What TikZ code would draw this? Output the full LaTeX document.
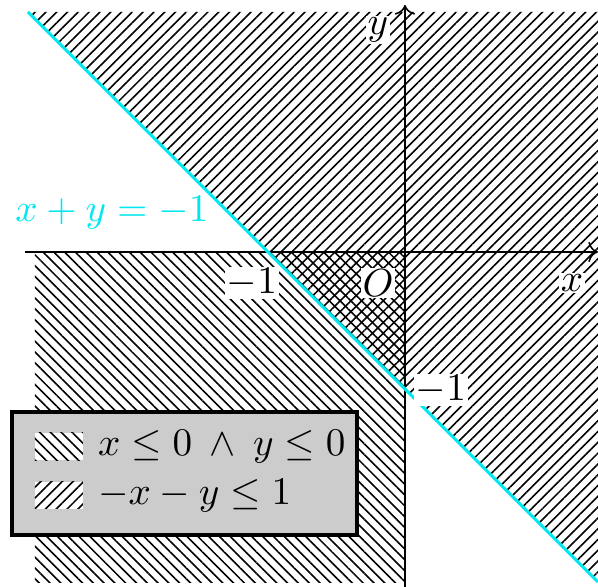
\documentclass[tikz,border=0pt]{standalone}
\usepackage{amssymb}
\usepackage{xcolor}
\usepackage{tikz}
\usetikzlibrary{arrows.meta,calc,positioning,patterns.meta}
\definecolor{bound}{RGB}{0,232,238}

\begin{document}
\begin{tikzpicture}[x=1.23cm,y=1.23cm,
  hatchne/.style={pattern={Lines[angle=45,distance=1.95pt,line width=0.4pt]}},
  hatchnw/.style={pattern={Lines[angle=-45,distance=1.95pt,line width=0.4pt]}},
  lbl/.style={fill=white,inner sep=0.5pt},
  swatch/.style={fill=white,minimum width=0.43cm,minimum height=0.243cm,inner sep=0pt}]
\useasboundingbox (-2.956,-2.445) rectangle (1.409,1.839);
\coordinate (O) at (0,0);
\coordinate (XL) at (-2.774,0);
\coordinate (XR) at (1.409,0);
\coordinate (YB) at (0,-2.445);
\coordinate (YT) at (0,1.803);
\coordinate (P) at (-2.752,1.752);
\coordinate (Q) at (1.409,-2.409);
% the two regions
\fill[hatchnw] (-2.701,0) rectangle (0,-2.416);
\fill[hatchne] (P) -- (1.409,1.752) -- (Q) -- cycle;
% axes and boundary line
\draw[->] (XL) -- (XR);
\draw[->] (YB) -- (YT);
\draw[bound,thick] (P) -- (Q);
\node[bound] (eq) at (-2.139,0.285) {$x+y=-1$};
\node[lbl] (ylab) at (-0.197,1.62) {$y$};
\node[lbl] (xlab) at (1.219,-0.226) {$x$};
\node[lbl] (olab) at (-0.197,-0.226) {$O$};
\node[lbl] (xm) at (-1.117,-0.226) {$-1$};
\node[lbl] (ym) at (0.263,-1.007) {$-1$};
% legend
\node[draw,thick,fill=gray!40,minimum width=3.097cm,minimum height=1.105cm] (legend) at (-1.609,-1.617) {};
\node[swatch,postaction={hatchnw}] (sw1) at (-2.526,-1.420) {};
\node[swatch,postaction={hatchne}] (sw2) at (-2.526,-1.777) {};
\node[right=2.5pt of sw1,inner sep=1pt] (t1) {$x\le 0\:\land\:y\le 0$};
\node[right=2.5pt of sw2,inner sep=1pt] (t2) {$-x-y\le 1$};
\end{tikzpicture}
\end{document}
